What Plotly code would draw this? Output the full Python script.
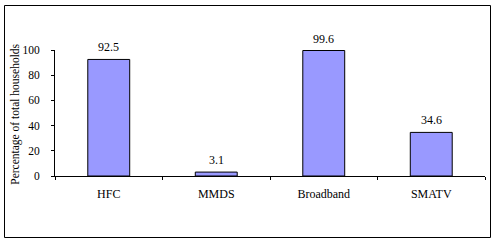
import plotly.graph_objects as go

categories = ["HFC", "MMDS", "Broadband", "SMATV"]
values = [92.5, 3.1, 99.6, 34.6]
y_title = "Percentage of total households"
y_ticks = [0, 20, 40, 60, 80, 100]

FONT = "Liberation Serif"
W, H = 494, 244
ML, MR, MT, MB = 55, 9, 50, 68
pw = W - ML - MR
ph = H - MT - MB

fig = go.Figure()
fig.add_trace(go.Bar(
    x=categories, y=values,
    marker=dict(color="#9999FF", line=dict(color="black", width=1)),
    showlegend=False,
))

annotations = []
for c, v in zip(categories, values):
    annotations.append(dict(
        x=c, y=v, xref="x", yref="y", text=f"{v:.1f}", showarrow=False,
        yanchor="bottom", yshift=3, font=dict(family=FONT, size=12, color="black"),
    ))
annotations.append(dict(
    xref="paper", yref="paper", x=(15.5 - ML) / pw, y=0.49, text=y_title,
    textangle=-90, showarrow=False, xanchor="center", yanchor="middle",
    font=dict(family=FONT, size=11.5, color="black"),
))

shapes = [dict(
    type="rect", xref="paper", yref="paper",
    x0=(4.5 - ML) / pw, x1=(490.5 - ML) / pw,
    y0=(H - MB - 237.5) / ph, y1=(H - MB - 5.5) / ph,
    line=dict(color="black", width=1), fillcolor="rgba(0,0,0,0)", layer="below",
)]

fig.update_layout(
    width=W, height=H,
    margin=dict(l=ML, r=MR, t=MT, b=MB, autoexpand=False),
    paper_bgcolor="white", plot_bgcolor="white",
    bargap=0.61,
    font=dict(family=FONT, size=12, color="black"),
    annotations=annotations, shapes=shapes,
    xaxis=dict(
        showline=True, linecolor="black", linewidth=1, showgrid=False,
        ticks="outside", tickson="boundaries", ticklen=3, tickcolor="black",
        ticklabelstandoff=7, zeroline=False,
        tickfont=dict(family=FONT, size=12, color="black"),
    ),
    yaxis=dict(
        range=[0, 100], tickvals=y_ticks, showline=True, linecolor="black",
        linewidth=1, showgrid=False, zeroline=False, ticks="outside",
        ticklen=3, tickcolor="black", ticklabelstandoff=9,
        tickfont=dict(family=FONT, size=11.5, color="black"),
    ),
)

fig.write_html("out.html")
